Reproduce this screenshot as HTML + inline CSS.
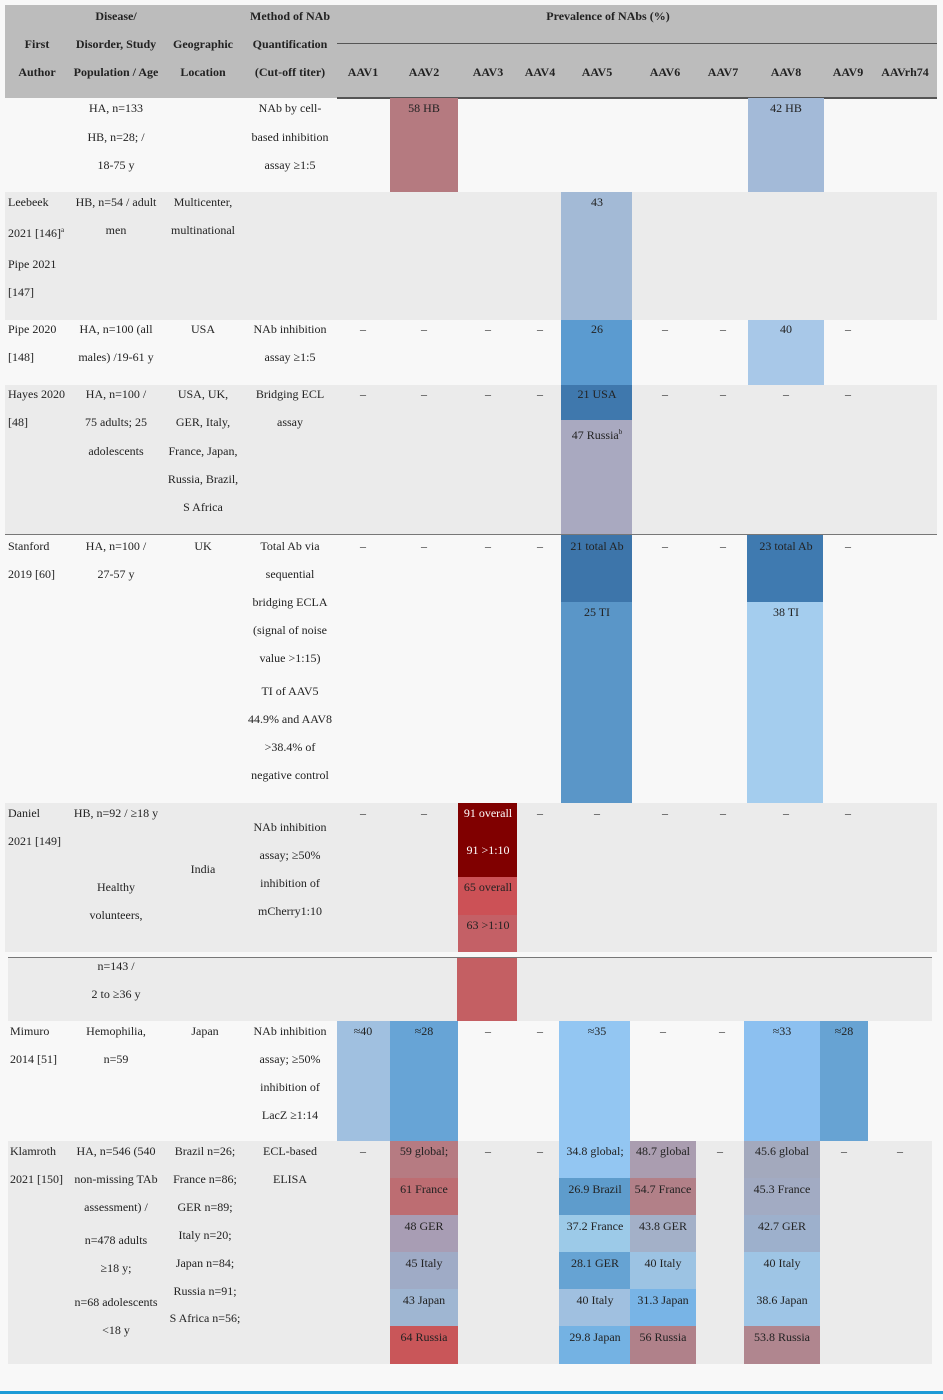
<!DOCTYPE html>
<html><head><meta charset="utf-8"><style>
body{margin:0;width:943px;height:1400px;background:#f8f8f8;position:relative;overflow:hidden;font-family:"Liberation Serif",serif;font-size:12px;color:#222}
div{position:absolute}
.c{width:140px;margin-left:-70px;text-align:center;white-space:nowrap;line-height:14px}
.l{white-space:nowrap;line-height:14px}
.h{font-weight:bold}
.w{color:#fff}
</style></head><body>
<!-- header -->
<div style="left:5px;top:5px;width:932px;height:93px;background:#bcbcbc"></div>
<div style="left:337px;top:43px;width:600px;height:1px;background:#555"></div>
<div style="left:337px;top:97px;width:600px;height:2px;background:#555"></div>
<!-- row bgs -->
<div style="left:5px;top:192px;width:932px;height:128px;background:#ebebeb"></div>
<div style="left:5px;top:385px;width:932px;height:149px;background:#ebebeb"></div>
<div style="left:5px;top:534px;width:932px;height:1px;background:#777"></div>
<div style="left:5px;top:803px;width:932px;height:149px;background:#ebebeb"></div>
<div style="left:8px;top:957px;width:924px;height:64px;background:#ebebeb"></div>
<div style="left:8px;top:957px;width:924px;height:1px;background:#777"></div>
<div style="left:8px;top:1141px;width:924px;height:223px;background:#ebebeb"></div>
<div style="left:0;top:1391px;width:943px;height:3px;background:#1b9ad6"></div>
<!-- colored blocks -->
<div style="left:390px;top:98px;width:68px;height:94px;background:#b57a80"></div>
<div style="left:748px;top:98px;width:76px;height:94px;background:#a3bad8"></div>
<div style="left:561px;top:192px;width:71px;height:128px;background:#a3bad6"></div>
<div style="left:561px;top:320px;width:71px;height:65px;background:#5b9bd0"></div>
<div style="left:748px;top:320px;width:76px;height:65px;background:#a8c8e8"></div>
<div style="left:561px;top:385px;width:71px;height:35px;background:#3f78ad"></div>
<div style="left:561px;top:420px;width:71px;height:114px;background:#a9a9c0"></div>
<div style="left:561px;top:535px;width:71px;height:67px;background:#3d75aa"></div>
<div style="left:561px;top:602px;width:71px;height:201px;background:#5a96c8"></div>
<div style="left:747px;top:535px;width:76px;height:67px;background:#3f7ab0"></div>
<div style="left:747px;top:602px;width:76px;height:201px;background:#a4cdee"></div>
<div style="left:458px;top:803px;width:59px;height:74px;background:#800000"></div>
<div style="left:458px;top:877px;width:59px;height:38px;background:#cc5156"></div>
<div style="left:458px;top:915px;width:59px;height:37px;background:#c46066"></div>
<div style="left:457px;top:958px;width:60px;height:63px;background:#c45f63"></div>
<div style="left:337px;top:1021px;width:53px;height:120px;background:#a0c0e0"></div>
<div style="left:390px;top:1021px;width:68px;height:120px;background:#67a4d6"></div>
<div style="left:559px;top:1021px;width:71px;height:120px;background:#93c6f2"></div>
<div style="left:744px;top:1021px;width:76px;height:120px;background:#8cc0f0"></div>
<div style="left:820px;top:1021px;width:48px;height:120px;background:#67a3d3"></div>
<!-- row 9 blocks -->
<div style="left:390px;top:1141px;width:68px;height:37px;background:#b67b82"></div>
<div style="left:390px;top:1178px;width:68px;height:37px;background:#bd6d72"></div>
<div style="left:390px;top:1215px;width:68px;height:37px;background:#a89db4"></div>
<div style="left:390px;top:1252px;width:68px;height:37px;background:#9fabc6"></div>
<div style="left:390px;top:1289px;width:68px;height:37px;background:#9fb6d2"></div>
<div style="left:390px;top:1326px;width:68px;height:38px;background:#c95659"></div>
<div style="left:559px;top:1141px;width:71px;height:37px;background:#93c6f2"></div>
<div style="left:559px;top:1178px;width:71px;height:37px;background:#5e9ccc"></div>
<div style="left:559px;top:1215px;width:71px;height:37px;background:#9ccae8"></div>
<div style="left:559px;top:1252px;width:71px;height:37px;background:#66a3d3"></div>
<div style="left:559px;top:1289px;width:71px;height:37px;background:#a0c0e0"></div>
<div style="left:559px;top:1326px;width:71px;height:38px;background:#74b2e3"></div>
<div style="left:630px;top:1141px;width:66px;height:37px;background:#aa9db0"></div>
<div style="left:630px;top:1178px;width:66px;height:37px;background:#b28088"></div>
<div style="left:630px;top:1215px;width:66px;height:37px;background:#a3b0c8"></div>
<div style="left:630px;top:1252px;width:66px;height:37px;background:#9cc3e3"></div>
<div style="left:630px;top:1289px;width:66px;height:37px;background:#78b4e6"></div>
<div style="left:630px;top:1326px;width:66px;height:38px;background:#b0818a"></div>
<div style="left:744px;top:1141px;width:76px;height:37px;background:#a3a9bd"></div>
<div style="left:744px;top:1178px;width:76px;height:37px;background:#a2abc3"></div>
<div style="left:744px;top:1215px;width:76px;height:37px;background:#9db0cc"></div>
<div style="left:744px;top:1252px;width:76px;height:37px;background:#9ec5e5"></div>
<div style="left:744px;top:1289px;width:76px;height:37px;background:#9ec5e6"></div>
<div style="left:744px;top:1326px;width:76px;height:38px;background:#b0868f"></div>

<!-- header text -->
<div class="c h" style="left:116px;top:9px">Disease/</div>
<div class="c h" style="left:290px;top:9px">Method of NAb</div>
<div class="c h" style="left:608px;top:9px">Prevalence of NAbs (%)</div>
<div class="c h" style="left:37px;top:37px">First</div>
<div class="c h" style="left:116px;top:37px">Disorder, Study</div>
<div class="c h" style="left:203px;top:37px">Geographic</div>
<div class="c h" style="left:290px;top:37px">Quantification</div>
<div class="c h" style="left:37px;top:65px">Author</div>
<div class="c h" style="left:116px;top:65px">Population / Age</div>
<div class="c h" style="left:203px;top:65px">Location</div>
<div class="c h" style="left:290px;top:65px">(Cut-off titer)</div>
<div class="c h" style="left:363px;top:65px">AAV1</div>
<div class="c h" style="left:424px;top:65px">AAV2</div>
<div class="c h" style="left:488px;top:65px">AAV3</div>
<div class="c h" style="left:540px;top:65px">AAV4</div>
<div class="c h" style="left:597px;top:65px">AAV5</div>
<div class="c h" style="left:665px;top:65px">AAV6</div>
<div class="c h" style="left:723px;top:65px">AAV7</div>
<div class="c h" style="left:786px;top:65px">AAV8</div>
<div class="c h" style="left:848px;top:65px">AAV9</div>
<div class="c h" style="left:905px;top:65px">AAVrh74</div>

<!-- first author -->
<div class="l" style="left:8px;top:195px">Leebeek</div>
<div class="l" style="left:8px;top:223px">2021 [146]<sup style="font-size:7px">a</sup></div>
<div class="l" style="left:8px;top:257px">Pipe 2021</div>
<div class="l" style="left:8px;top:285px">[147]</div>
<div class="l" style="left:8px;top:322px">Pipe 2020</div>
<div class="l" style="left:8px;top:350px">[148]</div>
<div class="l" style="left:8px;top:387px">Hayes 2020</div>
<div class="l" style="left:8px;top:415px">[48]</div>
<div class="l" style="left:8px;top:539px">Stanford</div>
<div class="l" style="left:8px;top:567px">2019 [60]</div>
<div class="l" style="left:8px;top:806px">Daniel</div>
<div class="l" style="left:8px;top:834px">2021 [149]</div>
<div class="l" style="left:10px;top:1024px">Mimuro</div>
<div class="l" style="left:10px;top:1052px">2014 [51]</div>
<div class="l" style="left:10px;top:1144px">Klamroth</div>
<div class="l" style="left:10px;top:1172px">2021 [150]</div>

<!-- disease -->
<div class="c" style="left:116px;top:101px">HA, n=133</div>
<div class="c" style="left:116px;top:130px">HB, n=28; /</div>
<div class="c" style="left:116px;top:158px">18-75 y</div>
<div class="c" style="left:116px;top:195px">HB, n=54 / adult</div>
<div class="c" style="left:116px;top:223px">men</div>
<div class="c" style="left:116px;top:322px">HA, n=100 (all</div>
<div class="c" style="left:116px;top:350px">males) /19-61 y</div>
<div class="c" style="left:116px;top:387px">HA, n=100 /</div>
<div class="c" style="left:116px;top:415px">75 adults; 25</div>
<div class="c" style="left:116px;top:444px">adolescents</div>
<div class="c" style="left:116px;top:539px">HA, n=100 /</div>
<div class="c" style="left:116px;top:567px">27-57 y</div>
<div class="c" style="left:116px;top:806px">HB, n=92 / ≥18 y</div>
<div class="c" style="left:116px;top:880px">Healthy</div>
<div class="c" style="left:116px;top:908px">volunteers,</div>
<div class="c" style="left:116px;top:959px">n=143 /</div>
<div class="c" style="left:116px;top:987px">2 to ≥36 y</div>
<div class="c" style="left:116px;top:1024px">Hemophilia,</div>
<div class="c" style="left:116px;top:1052px">n=59</div>
<div class="c" style="left:116px;top:1144px">HA, n=546 (540</div>
<div class="c" style="left:116px;top:1172px">non-missing TAb</div>
<div class="c" style="left:116px;top:1200px">assessment) /</div>
<div class="c" style="left:116px;top:1233px">n=478 adults</div>
<div class="c" style="left:116px;top:1261px">≥18 y;</div>
<div class="c" style="left:116px;top:1295px">n=68 adolescents</div>
<div class="c" style="left:116px;top:1323px">&lt;18 y</div>

<!-- geo -->
<div class="c" style="left:203px;top:195px">Multicenter,</div>
<div class="c" style="left:203px;top:223px">multinational</div>
<div class="c" style="left:203px;top:322px">USA</div>
<div class="c" style="left:203px;top:387px">USA, UK,</div>
<div class="c" style="left:203px;top:415px">GER, Italy,</div>
<div class="c" style="left:203px;top:444px">France, Japan,</div>
<div class="c" style="left:203px;top:472px">Russia, Brazil,</div>
<div class="c" style="left:203px;top:500px">S Africa</div>
<div class="c" style="left:203px;top:539px">UK</div>
<div class="c" style="left:203px;top:862px">India</div>
<div class="c" style="left:205px;top:1024px">Japan</div>
<div class="c" style="left:205px;top:1144px">Brazil n=26;</div>
<div class="c" style="left:205px;top:1172px">France n=86;</div>
<div class="c" style="left:205px;top:1200px">GER n=89;</div>
<div class="c" style="left:205px;top:1228px">Italy n=20;</div>
<div class="c" style="left:205px;top:1256px">Japan n=84;</div>
<div class="c" style="left:205px;top:1284px">Russia n=91;</div>
<div class="c" style="left:205px;top:1311px">S Africa n=56;</div>

<!-- method -->
<div class="c" style="left:290px;top:101px">NAb by cell-</div>
<div class="c" style="left:290px;top:130px">based inhibition</div>
<div class="c" style="left:290px;top:158px">assay ≥1:5</div>
<div class="c" style="left:290px;top:322px">NAb inhibition</div>
<div class="c" style="left:290px;top:350px">assay ≥1:5</div>
<div class="c" style="left:290px;top:387px">Bridging ECL</div>
<div class="c" style="left:290px;top:415px">assay</div>
<div class="c" style="left:290px;top:539px">Total Ab via</div>
<div class="c" style="left:290px;top:567px">sequential</div>
<div class="c" style="left:290px;top:595px">bridging ECLA</div>
<div class="c" style="left:290px;top:623px">(signal of noise</div>
<div class="c" style="left:290px;top:651px">value &gt;1:15)</div>
<div class="c" style="left:290px;top:684px">TI of AAV5</div>
<div class="c" style="left:290px;top:712px">44.9% and AAV8</div>
<div class="c" style="left:290px;top:740px">&gt;38.4% of</div>
<div class="c" style="left:290px;top:768px">negative control</div>
<div class="c" style="left:290px;top:820px">NAb inhibition</div>
<div class="c" style="left:290px;top:848px">assay; ≥50%</div>
<div class="c" style="left:290px;top:876px">inhibition of</div>
<div class="c" style="left:290px;top:904px">mCherry1:10</div>
<div class="c" style="left:290px;top:1024px">NAb inhibition</div>
<div class="c" style="left:290px;top:1052px">assay; ≥50%</div>
<div class="c" style="left:290px;top:1080px">inhibition of</div>
<div class="c" style="left:290px;top:1108px">LacZ ≥1:14</div>
<div class="c" style="left:290px;top:1144px">ECL-based</div>
<div class="c" style="left:290px;top:1172px">ELISA</div>

<!-- values -->
<div class="c" style="left:424px;top:101px">58 HB</div>
<div class="c" style="left:786px;top:101px">42 HB</div>
<div class="c" style="left:597px;top:195px">43</div>
<div class="c" style="left:597px;top:322px">26</div>
<div class="c" style="left:786px;top:322px">40</div>
<div class="c" style="left:597px;top:387px">21 USA</div>
<div class="c" style="left:597px;top:425px">47 Russia<sup style="font-size:7px">b</sup></div>
<div class="c" style="left:597px;top:539px">21 total Ab</div>
<div class="c" style="left:597px;top:605px">25 TI</div>
<div class="c" style="left:786px;top:539px">23 total Ab</div>
<div class="c" style="left:786px;top:605px">38 TI</div>
<div class="c w" style="left:488px;top:806px">91 overall</div>
<div class="c w" style="left:488px;top:843px">91 &gt;1:10</div>
<div class="c" style="left:488px;top:880px">65 overall</div>
<div class="c" style="left:488px;top:918px">63 &gt;1:10</div>
<div class="c" style="left:363px;top:1024px">≈40</div>
<div class="c" style="left:424px;top:1024px">≈28</div>
<div class="c" style="left:597px;top:1024px">≈35</div>
<div class="c" style="left:782px;top:1024px">≈33</div>
<div class="c" style="left:844px;top:1024px">≈28</div>
<div class="c" style="left:424px;top:1144px">59 global;</div>
<div class="c" style="left:424px;top:1182px">61 France</div>
<div class="c" style="left:424px;top:1219px">48 GER</div>
<div class="c" style="left:424px;top:1256px">45 Italy</div>
<div class="c" style="left:424px;top:1293px">43 Japan</div>
<div class="c" style="left:424px;top:1330px">64 Russia</div>
<div class="c" style="left:595px;top:1144px">34.8 global;</div>
<div class="c" style="left:595px;top:1182px">26.9 Brazil</div>
<div class="c" style="left:595px;top:1219px">37.2 France</div>
<div class="c" style="left:595px;top:1256px">28.1 GER</div>
<div class="c" style="left:595px;top:1293px">40 Italy</div>
<div class="c" style="left:595px;top:1330px">29.8 Japan</div>
<div class="c" style="left:663px;top:1144px">48.7 global</div>
<div class="c" style="left:663px;top:1182px">54.7 France</div>
<div class="c" style="left:663px;top:1219px">43.8 GER</div>
<div class="c" style="left:663px;top:1256px">40 Italy</div>
<div class="c" style="left:663px;top:1293px">31.3 Japan</div>
<div class="c" style="left:663px;top:1330px">56 Russia</div>
<div class="c" style="left:782px;top:1144px">45.6 global</div>
<div class="c" style="left:782px;top:1182px">45.3 France</div>
<div class="c" style="left:782px;top:1219px">42.7 GER</div>
<div class="c" style="left:782px;top:1256px">40 Italy</div>
<div class="c" style="left:782px;top:1293px">38.6 Japan</div>
<div class="c" style="left:782px;top:1330px">53.8 Russia</div>

<!-- dashes -->
<div class="c" style="left:363px;top:322px">–</div><div class="c" style="left:424px;top:322px">–</div><div class="c" style="left:488px;top:322px">–</div><div class="c" style="left:540px;top:322px">–</div><div class="c" style="left:665px;top:322px">–</div><div class="c" style="left:723px;top:322px">–</div><div class="c" style="left:848px;top:322px">–</div>
<div class="c" style="left:363px;top:387px">–</div><div class="c" style="left:424px;top:387px">–</div><div class="c" style="left:488px;top:387px">–</div><div class="c" style="left:540px;top:387px">–</div><div class="c" style="left:665px;top:387px">–</div><div class="c" style="left:723px;top:387px">–</div><div class="c" style="left:786px;top:387px">–</div><div class="c" style="left:848px;top:387px">–</div>
<div class="c" style="left:363px;top:539px">–</div><div class="c" style="left:424px;top:539px">–</div><div class="c" style="left:488px;top:539px">–</div><div class="c" style="left:540px;top:539px">–</div><div class="c" style="left:665px;top:539px">–</div><div class="c" style="left:723px;top:539px">–</div><div class="c" style="left:848px;top:539px">–</div>
<div class="c" style="left:363px;top:806px">–</div><div class="c" style="left:424px;top:806px">–</div><div class="c" style="left:540px;top:806px">–</div><div class="c" style="left:597px;top:806px">–</div><div class="c" style="left:665px;top:806px">–</div><div class="c" style="left:723px;top:806px">–</div><div class="c" style="left:786px;top:806px">–</div><div class="c" style="left:848px;top:806px">–</div>
<div class="c" style="left:488px;top:1024px">–</div><div class="c" style="left:540px;top:1024px">–</div><div class="c" style="left:663px;top:1024px">–</div><div class="c" style="left:722px;top:1024px">–</div>
<div class="c" style="left:363px;top:1144px">–</div><div class="c" style="left:488px;top:1144px">–</div><div class="c" style="left:540px;top:1144px">–</div><div class="c" style="left:720px;top:1144px">–</div><div class="c" style="left:844px;top:1144px">–</div><div class="c" style="left:900px;top:1144px">–</div>
</body></html>
